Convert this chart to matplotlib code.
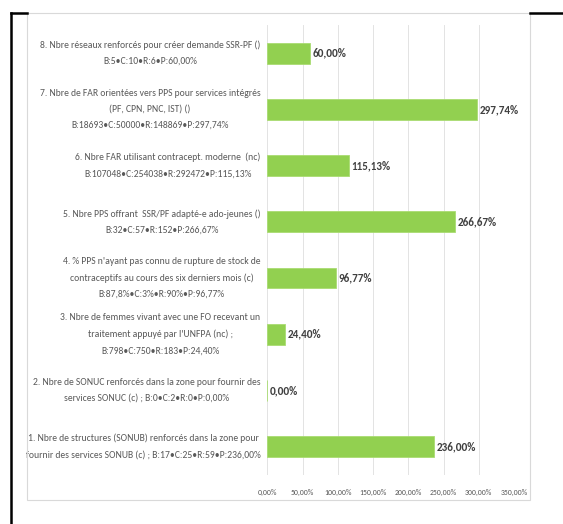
import matplotlib.pyplot as plt
import matplotlib.patches as patches
from matplotlib.lines import Line2D
from matplotlib.ticker import FuncFormatter

labels = [
    "1. Nbre de structures (SONUB) renforcés dans la zone pour\nfournir des services SONUB (c) ; B:17•C:25•R:59•P:236,00%",
    "2. Nbre de SONUC renforcés dans la zone pour fournir des\nservices SONUC (c) ; B:0•C:2•R:0•P:0,00%",
    "3. Nbre de femmes vivant avec une FO recevant un\ntraitement appuyé par l'UNFPA (nc) ;\nB:798•C:750•R:183•P:24,40%",
    "4. % PPS n'ayant pas connu de rupture de stock de\ncontraceptifs au cours des six derniers mois (c)\nB:87,8%•C:3%•R:90%•P:96,77%",
    "5. Nbre PPS offrant  SSR/PF adapté-e ado-jeunes ()\nB:32•C:57•R:152•P:266,67%",
    "6. Nbre FAR utilisant contracept. moderne  (nc)\nB:107048•C:254038•R:292472•P:115,13%",
    "7. Nbre de FAR orientées vers PPS pour services intégrés\n(PF, CPN, PNC, IST) ()\nB:18693•C:50000•R:148869•P:297,74%",
    "8. Nbre réseaux renforcés pour créer demande SSR-PF ()\nB:5•C:10•R:6•P:60,00%",
]
values = [236.00, 0.00, 24.40, 96.77, 266.67, 115.13, 297.74, 60.00]
xticks = [0, 50, 100, 150, 200, 250, 300, 350]

plt.rcParams['font.family'] = ['Carlito', 'DejaVu Sans']

fig = plt.figure(figsize=(5.63, 5.24), dpi=100)
ax = fig.add_axes([0.475, 0.094, 0.438, 0.858])

y = list(range(len(values)))
ax.barh(y, values, height=0.37, color='#92D050', edgecolor='#A9DC72', linewidth=0.6, zorder=3)
for yi, v in zip(y, values):
    ax.annotate(f"{v:.2f}%".replace('.', ','), (v, yi), xytext=(2, 0), textcoords='offset points',
                ha='left', va='center', fontsize=8, color='#404040', fontweight='bold')

ax.set_xlim(0, 350)
ax.set_ylim(-0.5, len(values) - 0.5)
ax.set_xticks(xticks)
ax.xaxis.set_major_formatter(FuncFormatter(lambda v, p: f"{v:.2f}%".replace('.', ',')))
ax.set_yticks(y)
ax.set_yticklabels(labels, multialignment='center', linespacing=2.0, va='center')
ax.tick_params(axis='y', length=0, labelsize=6.9, labelcolor='#595959', pad=5)
ax.tick_params(axis='x', length=0, labelsize=5.6, labelcolor='#595959', pad=10)
ax.grid(axis='x', color='#E3E3E3', linewidth=0.7, zorder=0)
for s in ax.spines.values():
    s.set_visible(False)

# chart border and surrounding table lines
fig.patches.append(patches.Rectangle((0.048, 0.046), 0.893, 0.929, transform=fig.transFigure,
                                     fill=False, edgecolor='#D9D9D9', linewidth=0.8))
fig.lines.append(Line2D([0.02, 0.02], [0.0, 0.976], transform=fig.transFigure, color='black', linewidth=1.8))
fig.lines.append(Line2D([0.02, 0.048], [0.976, 0.976], transform=fig.transFigure, color='black', linewidth=1.8))
fig.lines.append(Line2D([0.941, 1.0], [0.976, 0.976], transform=fig.transFigure, color='black', linewidth=1.8))

fig.savefig('out.png', dpi=100)
